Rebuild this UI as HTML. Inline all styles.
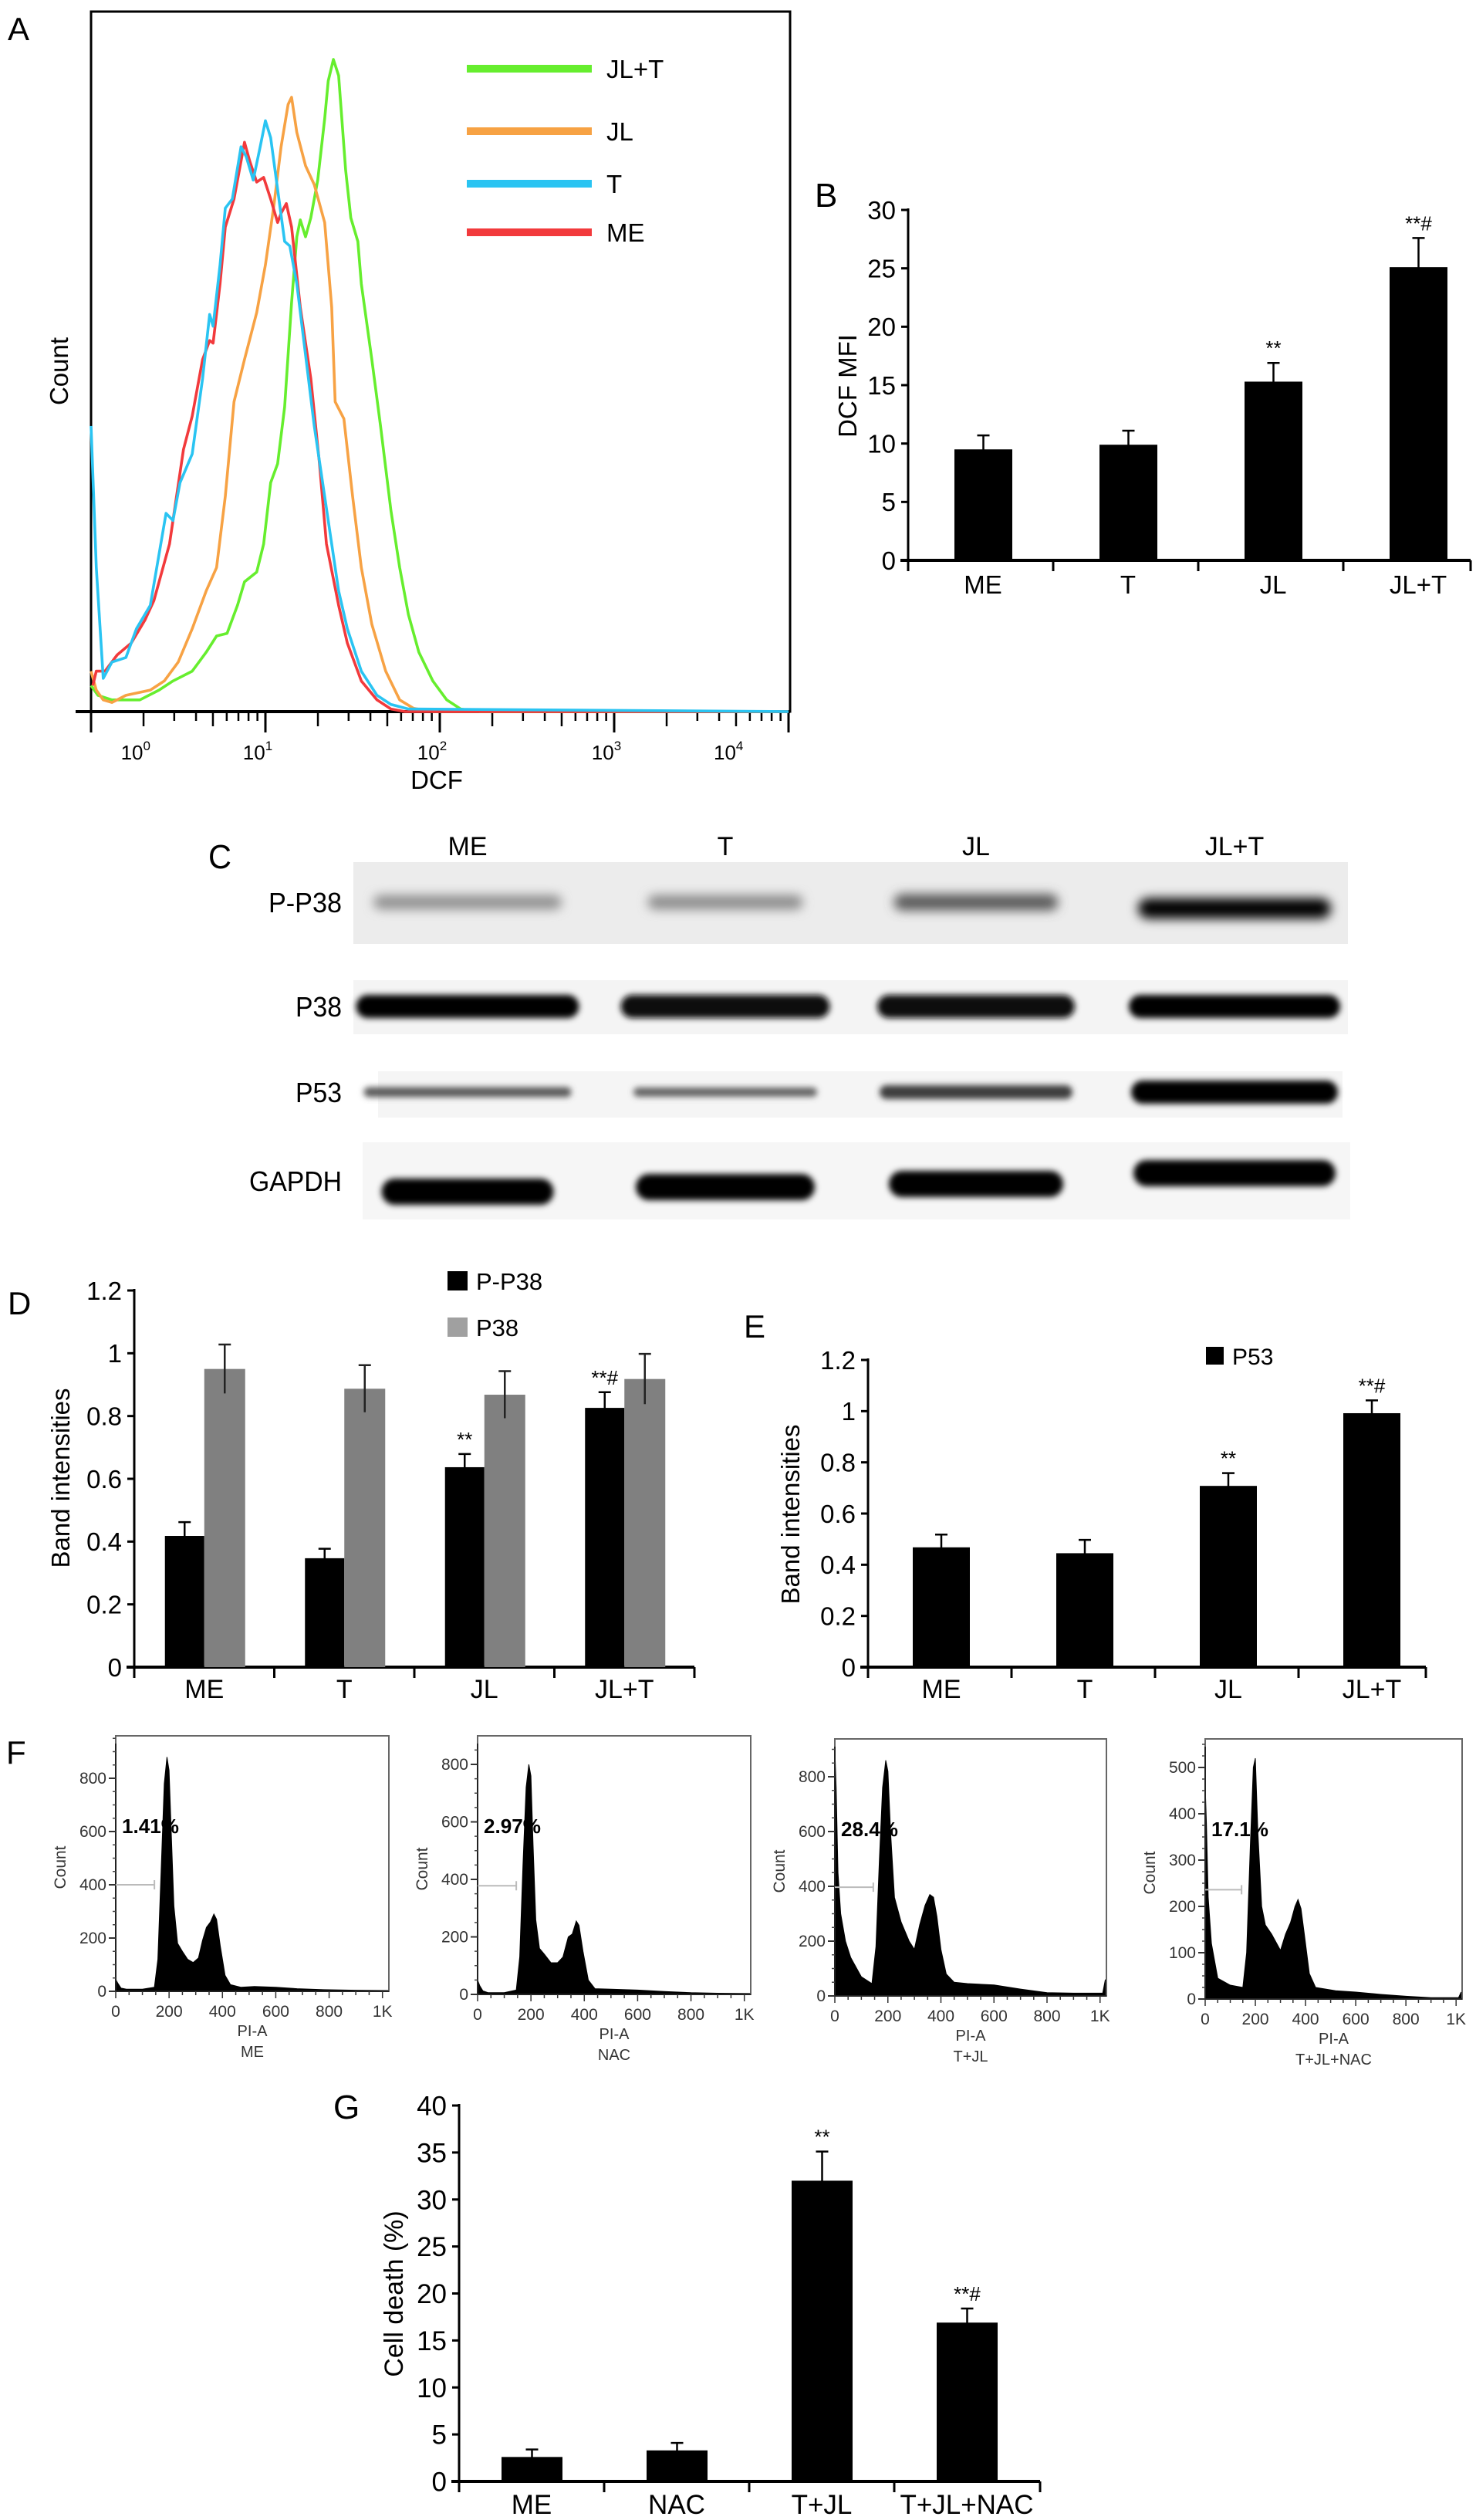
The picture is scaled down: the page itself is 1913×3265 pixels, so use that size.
<!DOCTYPE html>
<html>
<head>
<meta charset="utf-8">
<style>
html,body{margin:0;padding:0;background:#fff;}
svg{display:block;font-family:"Liberation Sans",Arial,sans-serif;}
</style>
</head>
<body>
<svg id="fig" width="1913" height="3265" viewBox="0 0 1913 3265" xmlns="http://www.w3.org/2000/svg">
<defs>
<filter id="blur" x="-20%" y="-80%" width="140%" height="260%"><feGaussianBlur stdDeviation="7"/></filter>
<filter id="blur2" x="-20%" y="-80%" width="140%" height="260%"><feGaussianBlur stdDeviation="4"/></filter>
</defs>
<rect x="0" y="0" width="1913" height="3265" fill="#fff"/>

<text x="10" y="52" font-size="42">A</text>
<g id="panelA"></g>
<text transform="translate(88,481) rotate(-90)" text-anchor="middle" font-size="33">Count</text>
<text x="566" y="1022" text-anchor="middle" font-size="33">DCF</text>

<text x="1056" y="268" font-size="44">B</text>
<g id="panelB"></g>
<text transform="translate(1110,500) rotate(-90)" text-anchor="middle" font-size="33">DCF MFI</text>

<text x="270" y="1125" font-size="44" textLength="30" lengthAdjust="spacingAndGlyphs">C</text>
<g id="panelC"></g>

<text x="10" y="1703" font-size="42">D</text>
<g id="panelD"></g>
<text transform="translate(90,1915) rotate(-90)" text-anchor="middle" font-size="33">Band intensities</text>

<text x="964" y="1733" font-size="42">E</text>
<g id="panelE"></g>
<text transform="translate(1036,1962) rotate(-90)" text-anchor="middle" font-size="33">Band intensities</text>

<text x="8" y="2285" font-size="42">F</text>
<g id="panelF"></g>

<text x="432" y="2745" font-size="44">G</text>
<g id="panelG"></g>
<text transform="translate(522,2972) rotate(-90)" text-anchor="middle" font-size="34">Cell death (%)</text>
</svg>

<script>
const aLegend = ['JL+T','JL','T','ME'];
const aColors = ['#66ee2e','#f7a244','#2ac4f2','#f23a3c'];
const jltD = [0,.04,.12,.28,.39,.47,.58,.66,.72,.78,.84,.88,.95,.99,1.03,1.07,1.11,1.15,1.18,1.2,1.23,1.26,1.3,1.34,1.36,1.39,1.42,1.46,1.49,1.53,1.55,1.61,1.66,1.72,1.77,1.82,1.88,1.96,2.04,2.12,2.23,4.0];
const jltC = [4,2.5,1.8,1.8,3.3,4.7,6.2,9.1,11.6,12,16.3,19.9,21.4,25.7,35.1,38,46.7,62.7,72.8,75.4,72.8,75.7,81.5,90.9,96.7,100,97.5,83,75.7,72.1,65.6,54,43.8,30.8,22.1,14.9,9.1,4.7,1.8,0.4,0,0];
const jlD = [0,.03,.07,.12,.2,.34,.42,.5,.58,.66,.72,.77,.82,.88,.95,1.0,1.05,1.09,1.13,1.15,1.18,1.23,1.28,1.34,1.38,1.4,1.45,1.5,1.55,1.61,1.69,1.77,1.85,1.96,4.0];
const jlC = [6.2,3.3,1.8,1.4,2.5,3.3,4.7,7.6,12.7,18.5,22.1,33,47.5,54,61.2,68.5,77.9,86.6,93.1,94.2,88.8,83.7,80.8,75,62,47.5,44.9,33,22.1,13.4,6.2,1.8,0.5,0,0];
const tD = [0,.03,.07,.12,.2,.26,.34,.43,.47,.51,.58,.64,.68,.70,.74,.77,.81,.86,.89,.93,.97,1.0,1.03,1.07,1.11,1.14,1.18,1.23,1.28,1.36,1.42,1.47,1.55,1.64,1.72,1.82,4.0];
const tC = [43.8,22.1,5.1,7.6,8.3,12.7,16.3,30.4,29.3,35.1,39.5,51.1,60.9,59.1,68.5,77.2,78.6,86.6,85.1,81.5,86.6,90.6,88,80.1,72.1,71.4,65.6,54.7,43.8,29.3,18.5,12.7,6.2,2.5,1.1,0.4,0];
const meD = [0.01,.03,.08,.15,.23,.31,.36,.45,.53,.58,.64,.68,.70,.74,.77,.82,.86,.88,.91,.95,.99,1.03,1.07,1.09,1.12,1.15,1.20,1.26,1.31,1.35,1.42,1.47,1.55,1.64,1.72,1.80,4.0];
const meC = [4,6.2,6.2,8.7,10.5,14.1,17,25.7,40.2,45.3,54,56.9,56.5,65.6,74.3,78.6,84.4,87.3,84.4,81.2,81.9,78.6,75,76.4,77.9,74.3,62,51.1,38,25.7,16.3,10.5,4.7,1.8,0.4,0,0];
const aTickLabels = ['0','1','2','3','4'];
const aTickLabelPos = [0.3,1,2,3,3.7];

const bCats = ['ME','T','JL','JL+T'];
const bVals = [9.5,9.9,15.3,25.1];
const bErr = [1.2,1.2,1.6,2.5];
const bSig = ['','','**','**#'];
const bTicks = [0,5,10,15,20,25,30];

const cLanes = ['ME','T','JL','JL+T'];
const cRows = ['P-P38','P38','P53','GAPDH'];
const cPP38 = [0.28,0.3,0.55,1.0];
const cP38 = [1.0,0.95,0.95,0.97];
const cP53 = [0.55,0.5,0.7,1.0];
const cGAPDH = [1.0,1.0,0.98,1.0];

const dCats = ['ME','T','JL','JL+T'];
const dPP38 = [0.418,0.347,0.637,0.826];
const dPP38Err = [0.044,0.03,0.042,0.05];
const dP38 = [0.95,0.887,0.868,0.918];
const dP38Err = [0.078,0.075,0.075,0.08];
const dSig = ['','','**','**#'];
const dTicks = [0,0.2,0.4,0.6,0.8,1,1.2];

const eCats = ['ME','T','JL','JL+T'];
const eVals = [0.468,0.445,0.708,0.992];
const eErr = [0.05,0.052,0.05,0.05];
const eSig = ['','','**','**#'];
const eTicks = [0,0.2,0.4,0.6,0.8,1,1.2];

const fNames = ['ME','NAC','T+JL','T+JL+NAC'];
const fPct = ['1.41%','2.97%','28.4%','17.1%'];
const fGate = [400,378,397,236];
const fYTicks1 = [0,200,400,600,800];
const fYTicks4 = [0,100,200,300,400,500];
const fXTicks = [0,200,400,600,800,1000];
const fXLabels = ['0','200','400','600','800','1K'];
const fMeX = [0,8,20,40,100,145,158,170,182,192,200,208,218,232,250,270,290,310,325,340,355,368,378,392,410,430,470,520,600,680,780,900,1020];
const fMeC = [45,30,12,8,8,15,120,450,780,880,830,600,320,180,150,120,108,125,190,240,260,290,270,170,60,25,15,18,15,10,6,4,3];
const fNacX = [0,8,20,40,100,145,158,170,182,192,200,208,218,232,250,275,300,320,340,355,370,380,395,415,440,500,600,700,800,900,1020];
const fNacC = [50,30,12,6,6,15,130,450,720,800,760,520,260,160,140,110,110,130,200,210,255,240,150,50,20,18,15,10,6,4,3];
const fTjlX = [0,5,12,22,40,60,100,140,155,168,180,192,200,210,225,250,280,300,320,340,358,372,385,400,420,450,500,600,700,800,900,1010,1020];
const fTjlC = [900,760,450,300,200,140,70,45,180,500,760,860,820,600,360,270,200,170,260,330,370,360,290,170,80,50,45,40,25,12,10,10,60];
const fTjlnX = [0,5,12,25,50,100,150,165,180,192,200,210,225,240,265,300,320,340,358,370,382,395,415,440,520,600,700,800,900,1010,1020];
const fTjlnC = [460,380,220,120,45,30,25,100,330,500,520,360,200,160,140,105,140,165,200,215,195,140,55,25,18,15,10,6,3,3,15];

const gCats = ['ME','NAC','T+JL','T+JL+NAC'];
const gVals = [2.6,3.3,32.0,16.9];
const gErr = [0.8,0.8,3.1,1.5];
const gSig = ['','','**','**#'];
const gTicks = [0,5,10,15,20,25,30,35,40];

const NS = 'http://www.w3.org/2000/svg';
function mk(tag, attrs, parent){
  const e = document.createElementNS(NS, tag);
  for (const k in attrs) e.setAttribute(k, attrs[k]);
  parent.appendChild(e);
  return e;
}
function linear(d0,d1,r0,r1){ return v => r0 + (v-d0)/(d1-d0)*(r1-r0); }

(function(){
  const g = document.getElementById('panelA');
  const L=118, R=1022, T=15, B=922;
  const xA = linear(0,4,L,R);
  const yA = linear(0,100,B,77);
  const frame = mk('rect',{x:L,y:T,width:1024-L,height:B-T,fill:'none',stroke:'#000','stroke-width':3},g);
  
  
  const ax = mk('line',{x1:98,y1:B,x2:1024,y2:B,stroke:'#000','stroke-width':4},g);
  
  
  for (let dec=0; dec<=4; dec++){
    const mj = mk('line',{x1:xA(dec),y1:B,x2:xA(dec),y2:B+27,stroke:'#000','stroke-width':3},g);
    
    
    if (dec<4){
      for (let m=2; m<=9; m++){
        const p = dec+Math.log10(m);
        const len = (m===2||m===5)?19:12;
        const mn = mk('line',{x1:xA(p),y1:B,x2:xA(p),y2:B+len,stroke:'#000','stroke-width':2.5},g);
        
        
      }
    }
  }
  aTickLabels.forEach((s,i)=>{
    const t = mk('text',{x:xA(aTickLabelPos[i])-10,y:984,'font-size':26,'text-anchor':'middle'},g);
    
    
    t.textContent='10';
    const sup = mk('tspan',{dy:-12,'font-size':17},t);
    sup.textContent=s;
  });
  const series = [[jltD,jltC],[jlD,jlC],[meD,meC],[tD,tC]];
  const cols = [aColors[0],aColors[1],aColors[3],aColors[2]];
  const names = ['series-jl-t','series-jl','series-me','series-t'];
  series.forEach((s,i)=>{
    let d='';
    s[0].forEach((v,j)=>{ d += (j?'L':'M')+xA(v).toFixed(1)+','+yA(s[1][j]).toFixed(1); });
    const p = mk('path',{d:d,fill:'none',stroke:cols[i],'stroke-width':3.6,'stroke-linejoin':'round'},g);
    
    
  });
  aLegend.forEach((s,i)=>{
    const yy=[89,170,238,301][i];
    const ln = mk('line',{x1:605,y1:yy,x2:767,y2:yy,stroke:aColors[i],'stroke-width':10},g);
    
    
    const t = mk('text',{x:786,y:yy+12,'font-size':33},g);
    
    
    t.textContent=s;
  });
})();

function barChart(gid, o){
  const g = document.getElementById(gid);
  const y = linear(0,o.ymax,o.zero,o.top);
  const yl = mk('line',{x1:o.left,y1:o.top-2,x2:o.left,y2:o.zero+2,stroke:'#000','stroke-width':3},g);
  
  
  const xl = mk('line',{x1:o.left-10,y1:o.zero,x2:o.right,y2:o.zero,stroke:'#000','stroke-width':4},g);
  
  
  o.ticks.forEach(v=>{
    const tk = mk('line',{x1:o.left-9,y1:y(v),x2:o.left,y2:y(v),stroke:'#000','stroke-width':3},g);
    
    
    const tl = mk('text',{x:o.left-16,y:y(v)+o.fs*0.36,'font-size':o.fs,'text-anchor':'end'},g);
    
    
    tl.textContent = String(v);
  });
  o.cats.forEach((c,i)=>{
    const cx = o.left + o.catW*(i+0.5) + o.shift;
    const bx = o.left + o.catW*i;
    const xt = mk('line',{x1:bx,y1:o.zero,x2:bx,y2:o.zero+14,stroke:'#000','stroke-width':3},g);
    
    
    const cl = mk('text',{x:cx,y:o.labY,'font-size':o.lfs,'text-anchor':'middle'},g);
    
    
    cl.textContent = c;
    o.series.forEach((s,k)=>{
      const x0 = cx + s.off;
      const yt = y(s.vals[i]);
      const r = mk('rect',{x:x0,y:yt,width:s.w,height:o.zero-yt,fill:s.color},g);
      
      
      const ex = x0 + s.w/2;
      const ye = y(s.vals[i]+s.err[i]);
      const yb = y(s.vals[i]-s.err[i]);
      const eb = mk('path',{d:'M'+ex+','+yb+'L'+ex+','+ye+'M'+(ex-8)+','+ye+'L'+(ex+8)+','+ye,stroke:s.errColor||'#000','stroke-width':2.5,fill:'none'},g);
      
      
    });
    if (o.sig && o.sig[i]){
      const s0 = o.series[o.sigSeries||0];
      const sx = cx + s0.off + s0.w/2;
      const st = mk('text',{x:sx,y:y(s0.vals[i]+s0.err[i])-10,'font-size':26,'text-anchor':'middle'},g);
      
      
      st.textContent = o.sig[i];
    }
  });
  const lastT = mk('line',{x1:o.right,y1:o.zero,x2:o.right,y2:o.zero+14,stroke:'#000','stroke-width':3},g);
  
  
}

barChart('panelB',{left:1177,right:1906,zero:726,top:272,ymax:30,ticks:bTicks,fs:33,lfs:33,labY:769,catW:188,shift:3,cats:bCats,
  series:[{vals:bVals,err:bErr,color:'#000',off:-37,w:75}],sig:bSig});
barChart('panelD',{left:174,right:900,zero:2160,top:1672,ymax:1.2,ticks:dTicks,fs:33,lfs:34,labY:2200,catW:181.5,shift:0,cats:dCats,
  series:[{vals:dPP38,err:dPP38Err,color:'#000',off:-51,w:51,name:'p-p38'},{vals:dP38,err:dP38Err,color:'#808080',off:0,w:53,name:'p38',errColor:'#222'}],sig:dSig});
barChart('panelE',{left:1125,right:1848,zero:2160,top:1762,ymax:1.2,ticks:eTicks,fs:33,lfs:34,labY:2200,catW:186,shift:2,cats:eCats,
  series:[{vals:eVals,err:eErr,color:'#000',off:-37,w:74}],sig:eSig});
barChart('panelG',{left:595,right:1348,zero:3215,top:2728,ymax:40,ticks:gTicks,fs:35,lfs:35,labY:3257,catW:188,shift:0,cats:gCats,
  series:[{vals:gVals,err:gErr,color:'#000',off:-39,w:79}],sig:gSig});

(function(){
  const gd = document.getElementById('panelD');
  const l1 = mk('rect',{x:580,y:1647,width:26,height:25,fill:'#000'},gd);
  
  
  const t1 = mk('text',{x:617,y:1671,'font-size':31},gd);
  
  
  t1.textContent='P-P38';
  const l2 = mk('rect',{x:580,y:1707,width:26,height:25,fill:'#a0a0a0'},gd);
  
  
  const t2 = mk('text',{x:617,y:1731,'font-size':31},gd);
  
  
  t2.textContent='P38';
  const ge = document.getElementById('panelE');
  const l3 = mk('rect',{x:1563,y:1745,width:23,height:23,fill:'#000'},ge);
  
  
  const t3 = mk('text',{x:1597,y:1768,'font-size':30},ge);
  
  
  t3.textContent='P53';
})();

(function(){
  const g = document.getElementById('panelC');
  const laneX = [606,940,1265,1600];
  const laneW = [[244,201,213,250],[289,271,256,274],[269,238,250,268],[223,232,226,262]];
  const rowY = [1169,1304,1415,1530];
  const rowH = [22,30,[13,12,18,30],34];
  const rowBg = [[458,1117,1289,106],[458,1270,1289,70],[490,1388,1250,60],[470,1480,1280,100]];
  const rowBgCol = ['#ececec','#f4f4f4','#f5f5f5','#f6f6f6'];
  const data = [cPP38,cP38,cP53,cGAPDH];
  rowBg.forEach((b,i)=>{
    const r = mk('rect',{x:b[0],y:b[1],width:b[2],height:b[3],fill:rowBgCol[i]},g);
    
    
  });
  cLanes.forEach((s,i)=>{
    const t = mk('text',{x:laneX[i],y:1108,'font-size':34,'text-anchor':'middle'},g);
    
    
    t.textContent=s;
  });
  const rowLabW = [95,60,60,120];
  cRows.forEach((s,i)=>{
    const t = mk('text',{x:443-rowLabW[i],y:rowY[i]+13,'font-size':36,textLength:rowLabW[i],lengthAdjust:'spacingAndGlyphs'},g);
    
    
    t.textContent=s;
  });
  const gOff = [14,8,4,-10];
  data.forEach((arr,r)=>{
    arr.forEach((v,i)=>{
      const shade = Math.round(200 - v*200);
      const h = Array.isArray(rowH[r]) ? rowH[r][i] : rowH[r]*(r===0?(0.7+0.5*v):1);
      const cy = rowY[r] + (r===3?gOff[i]:0) + (r===0?(v>0.8?8:0):0);
      const e = mk('rect',{x:laneX[i]-laneW[r][i]/2,y:cy-h/2,width:laneW[r][i],height:h,rx:h/2,ry:h/2,fill:'rgb('+shade+','+shade+','+shade+')',filter:(r===0?'url(#blur)':'url(#blur2)')},g);
      
      
    });
  });
})();

(function(){
  const g = document.getElementById('panelF');
  const boxes = [
    {L:150,R:504,T:2249,B:2580,ppu:0.345,ticks:fYTicks1,minor:50,x:fMeX,c:fMeC},
    {L:619,R:973,T:2249,B:2584,ppu:0.3725,ticks:fYTicks1,minor:50,x:fNacX,c:fNacC},
    {L:1082,R:1434,T:2253,B:2586,ppu:0.355,ticks:fYTicks1,minor:50,x:fTjlX,c:fTjlC},
    {L:1562,R:1895,T:2253,B:2590,ppu:0.60,ticks:fYTicks4,minor:25,x:fTjlnX,c:fTjlnC}
  ];
  boxes.forEach((b,i)=>{
    const xs = linear(0,1024,b.L,b.R);
    const ys = v => b.B - v*b.ppu;
    const fr = mk('rect',{x:b.L,y:b.T,width:b.R-b.L,height:b.B-b.T,fill:'none',stroke:'#666','stroke-width':2},g);
    
    
    let d = 'M'+xs(b.x[0])+','+b.B;
    b.x.forEach((v,j)=>{ d += 'L'+xs(v).toFixed(1)+','+Math.max(b.T+1,ys(b.c[j])).toFixed(1); });
    d += 'L'+xs(b.x[b.x.length-1])+','+b.B+'Z';
    const area = mk('path',{d:d,fill:'#000',stroke:'#000','stroke-width':1},g);
    
    
    const yl = mk('line',{x1:b.L,y1:b.T+10,x2:b.L,y2:b.B,stroke:'#222','stroke-width':2},g);
    
    
    const xl = mk('line',{x1:b.L,y1:b.B,x2:b.R,y2:b.B,stroke:'#222','stroke-width':2},g);
    
    
    const ymax = (b.B-b.T)/b.ppu;
    for (let v=0; v<=ymax; v+=b.minor){
      const mt = mk('line',{x1:b.L-4,y1:ys(v),x2:b.L,y2:ys(v),stroke:'#444','stroke-width':1.5},g);
      
      
    }
    b.ticks.forEach(v=>{
      const tk = mk('line',{x1:b.L-9,y1:ys(v),x2:b.L,y2:ys(v),stroke:'#333','stroke-width':2},g);
      
      
      const tl = mk('text',{x:b.L-12,y:ys(v)+7,'font-size':21,'text-anchor':'end',fill:'#333'},g);
      
      
      tl.textContent = String(v);
    });
    for (let v=0; v<=1024; v+=50){
      const mt = mk('line',{x1:xs(v),y1:b.B,x2:xs(v),y2:b.B+(v%200===0?9:5),stroke:'#333','stroke-width':1.5},g);
      
      
    }
    fXTicks.forEach((v,k)=>{
      const tl = mk('text',{x:xs(v),y:b.B+33,'font-size':21,'text-anchor':'middle',fill:'#333'},g);
      
      
      tl.textContent = fXLabels[k];
    });
    const cx = (b.L+b.R)/2;
    const pl = mk('text',{x:cx,y:b.B+58,'font-size':20,'text-anchor':'middle',fill:'#333'},g);
    
    
    pl.textContent = 'PI-A';
    const nl = mk('text',{x:cx,y:b.B+85,'font-size':20,'text-anchor':'middle',fill:'#333'},g);
    
    
    nl.textContent = fNames[i];
    const cl = mk('text',{x:0,y:0,'font-size':21,'text-anchor':'middle',fill:'#333',transform:'translate('+(b.L-65)+','+((b.T+b.B)/2+5)+') rotate(-90)'},g);
    
    
    cl.textContent = 'Count';
    const gy = ys(fGate[i]);
    const gt = mk('path',{d:'M'+b.L+','+gy+'L'+xs(145)+','+gy+'M'+xs(145)+','+(gy-6)+'L'+xs(145)+','+(gy+6),stroke:'#bbb','stroke-width':2,fill:'none'},g);
    
    
    const pt = mk('text',{x:b.L+8,y:b.T+126,'font-size':26,'font-weight':'bold',textLength:74,lengthAdjust:'spacingAndGlyphs'},g);
    
    
    pt.textContent = fPct[i];
  });
})();
</script>
</body>
</html>
